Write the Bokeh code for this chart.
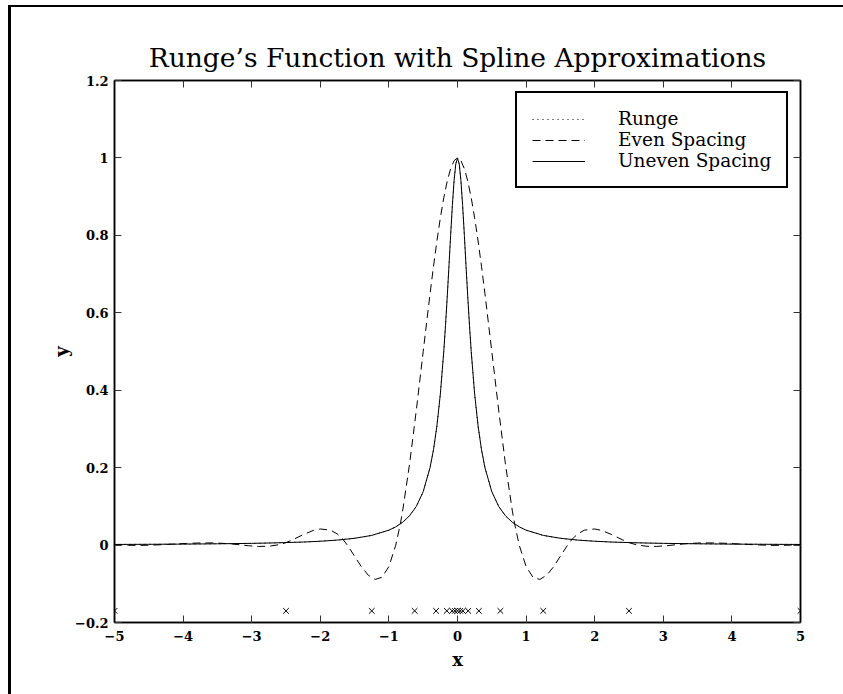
from bokeh.plotting import figure
from bokeh.models import (LinearAxis, FixedTicker, Legend, LegendItem, Range1d,
                          InlineStyleSheet)
from bokeh.embed import file_html
from bokeh.resources import INLINE

# ---------------- data ----------------
runge_x = [-5, -4.5, -4, -3.5, -3, -2.75, -2.5, -2.25, -2, -1.75, -1.5, -1.25, -1,
           -0.9, -0.8, -0.7, -0.6, -0.5, -0.4, -0.35, -0.3, -0.25, -0.2, -0.175,
           -0.15, -0.125, -0.1, -0.075, -0.05, -0.025, 0,
           0.025, 0.05, 0.075, 0.1, 0.125, 0.15, 0.175, 0.2, 0.25, 0.3, 0.35, 0.4,
           0.5, 0.6, 0.7, 0.8, 0.9, 1, 1.25, 1.5, 1.75, 2, 2.25, 2.5, 2.75, 3,
           3.5, 4, 4.5, 5]
runge_y = [0.0016, 0.0020, 0.0025, 0.0033, 0.0044, 0.0053, 0.0064, 0.0078, 0.0099,
           0.0129, 0.0175, 0.0250, 0.0385, 0.0471, 0.0588, 0.0755, 0.1000, 0.1379,
           0.2000, 0.2462, 0.3077, 0.3902, 0.5000, 0.5664, 0.6400, 0.7191, 0.8000,
           0.8767, 0.9412, 0.9846, 1.0000,
           0.9846, 0.9412, 0.8767, 0.8000, 0.7191, 0.6400, 0.5664, 0.5000, 0.3902,
           0.3077, 0.2462, 0.2000, 0.1379, 0.1000, 0.0755, 0.0588, 0.0471, 0.0385,
           0.0250, 0.0175, 0.0129, 0.0099, 0.0078, 0.0064, 0.0053, 0.0044, 0.0033,
           0.0025, 0.0020, 0.0016]

uneven_x = [-5, -4.5, -4, -3.5, -3, -2.75, -2.5, -2.25, -2, -1.75, -1.5, -1.25, -1,
            -0.9, -0.8, -0.7, -0.6, -0.5, -0.4, -0.35, -0.3, -0.25, -0.2, -0.175,
            -0.15, -0.125, -0.1, -0.075, -0.05, -0.025, 0,
            0.025, 0.05, 0.075, 0.1, 0.125, 0.15, 0.175, 0.2, 0.25, 0.3, 0.35, 0.4,
            0.5, 0.6, 0.7, 0.8, 0.9, 1, 1.25, 1.5, 1.75, 2, 2.25, 2.5, 2.75, 3,
            3.5, 4, 4.5, 5]
uneven_y = [0.0016, 0.0020, 0.0025, 0.0033, 0.0044, 0.0053, 0.0064, 0.0078, 0.0099,
            0.0129, 0.0175, 0.0250, 0.0385, 0.0471, 0.0588, 0.0755, 0.1000, 0.1379,
            0.2000, 0.2462, 0.3077, 0.3902, 0.5000, 0.5664, 0.6400, 0.7191, 0.8000,
            0.8767, 0.9412, 0.9846, 0.9990,
            0.9846, 0.9412, 0.8767, 0.8000, 0.7191, 0.6400, 0.5664, 0.5000, 0.3902,
            0.3077, 0.2462, 0.2000, 0.1379, 0.1000, 0.0755, 0.0588, 0.0471, 0.0385,
            0.0250, 0.0175, 0.0129, 0.0099, 0.0078, 0.0064, 0.0053, 0.0044, 0.0033,
            0.0025, 0.0020, 0.0016]

even_x = [-5, -4.8, -4.6, -4.4, -4.1667, -3.95, -3.75, -3.55, -3.3333, -3.2,
          -3.05, -2.9, -2.75, -2.6, -2.5, -2.4, -2.25, -2.1, -2.0, -1.85,
          -1.75, -1.6667, -1.6, -1.5, -1.4, -1.3, -1.2, -1.1, -1.0, -0.9,
          -0.8333, -0.8, -0.7, -0.6, -0.5, -0.4, -0.35, -0.3, -0.25, -0.2,
          -0.15, -0.1, -0.05, 0,
          0.05, 0.1, 0.15, 0.2, 0.25, 0.3, 0.35, 0.4, 0.5, 0.6, 0.7, 0.8,
          0.8333, 0.9, 1.0, 1.1, 1.2, 1.3, 1.4, 1.5, 1.6, 1.6667, 1.75,
          1.85, 2.0, 2.1, 2.25, 2.4, 2.5, 2.6, 2.75, 2.9, 3.05, 3.2, 3.3333,
          3.55, 3.75, 3.95, 4.1667, 4.4, 4.6, 4.8, 5]
even_y = [0.0016, -0.0006, -0.0008, 0.0002, 0.0023, 0.0043, 0.0055, 0.0056, 0.0036,
          0.0012, -0.0017, -0.0035, -0.0030, 0.0010, 0.0064, 0.0139, 0.0270, 0.0379,
          0.0416, 0.0385, 0.0285, 0.0142, -0.0014, -0.0288, -0.0562, -0.0780,
          -0.0888, -0.0831, -0.0554, -0.0003, 0.0545, 0.0877, 0.2077, 0.3489,
          0.5000, 0.6494, 0.7198, 0.7855, 0.8451, 0.8970, 0.9399, 0.9723, 0.9928,
          1.0000,
          0.9928, 0.9723, 0.9399, 0.8970, 0.8451, 0.7855, 0.7198, 0.6494, 0.5000,
          0.3489, 0.2077, 0.0877, 0.0545, -0.0003, -0.0554, -0.0831, -0.0888,
          -0.0780, -0.0562, -0.0288, -0.0014, 0.0142, 0.0285, 0.0385, 0.0416,
          0.0379, 0.0270, 0.0139, 0.0064, 0.0010, -0.0030, -0.0035, -0.0017,
          0.0012, 0.0036, 0.0056, 0.0055, 0.0043, 0.0023, 0.0002, -0.0008,
          -0.0006, 0.0016]

knot_x = [-5, -2.5, -1.25, -0.625, -0.3125, -0.15625, -0.078125, -0.0390625, 0,
          0.0390625, 0.078125, 0.15625, 0.3125, 0.625, 1.25, 2.5, 5]
knot_y = [-0.17, -0.17, -0.17, -0.17, -0.17, -0.17, -0.17, -0.17, -0.17,
          -0.17, -0.17, -0.17, -0.17, -0.17, -0.17, -0.17, -0.17]

x_ticks = [-5, -4, -3, -2, -1, 0, 1, 2, 3, 4, 5]
x_tick_labels = ["\u22125", "\u22124", "\u22123", "\u22122", "\u22121", "0",
                 "1", "2", "3", "4", "5"]
y_ticks = [-0.2, 0, 0.2, 0.4, 0.6, 0.8, 1, 1.2]
y_tick_labels = ["\u22120.2", "0", "0.2", "0.4", "0.6", "0.8", "1", "1.2"]

title_text = "Runge\u2019s Function with Spline Approximations"
series_names = ["Runge", "Even Spacing", "Uneven Spacing"]

# ---------------- figure ----------------
SERIF = "DejaVu Serif"

p = figure(width=843, height=694, output_backend="svg", toolbar_location=None,
           x_range=Range1d(-5, 5), y_range=Range1d(-0.2, 1.2),
           min_border_left=114, min_border_right=43,
           min_border_top=80, min_border_bottom=72)
# the picture's outer frame (black top and left edges) drawn behind a
# transparent canvas border
p.border_fill_color = None
p.styles = {"background": ("linear-gradient(#000,#000) 8px 5px / 835px 2px no-repeat, "
                           "linear-gradient(#000,#000) 8px 5px / 3px 689px no-repeat, "
                           "#ffffff"),
            "overflow": "hidden"}
# hide any scrollbar inside the figure's own shadow DOM
p.stylesheets = [InlineStyleSheet(css=(
    "* { scrollbar-width: none !important; } "
    "*::-webkit-scrollbar { display: none !important; width: 0 !important; "
    "height: 0 !important; } "
    ":host, .bk-Canvas, .bk-canvas-wrapper { overflow: hidden !important; }"))]
p.background_fill_color = "white"
p.outline_line_color = "black"
p.outline_line_width = 1.5
p.grid.visible = False

p.title.text = title_text
p.title.text_font = SERIF
p.title.text_font_size = "26.5px"
p.title.text_font_style = "normal"
p.title.text_color = "black"
p.title.align = "center"
p.title.standoff = 15


def style_axis(ax, ticks, labels, show_labels):
    ax.ticker = FixedTicker(ticks=ticks)
    ax.major_tick_in = 7
    ax.major_tick_out = 0
    ax.minor_tick_line_color = None
    ax.axis_line_color = "black"
    ax.axis_line_width = 1.5
    ax.major_tick_line_color = "#333333"
    ax.major_tick_line_width = 1
    if show_labels:
        ax.major_label_overrides = dict(zip(ticks, labels))
        ax.major_label_text_font = SERIF
        ax.major_label_text_font_size = "13px"
        ax.major_label_text_font_style = "bold"
        ax.major_label_text_color = "black"
    else:
        ax.major_label_text_color = None
        ax.major_label_text_font_size = "1px"
        ax.major_label_standoff = 0


style_axis(p.xaxis[0], x_ticks, x_tick_labels, True)
style_axis(p.yaxis[0], y_ticks, y_tick_labels, True)
p.xaxis.major_label_standoff = 8
p.yaxis.major_label_standoff = 6
p.xaxis.axis_label = "x"
p.yaxis.axis_label = "y"
for ax in (p.xaxis[0], p.yaxis[0]):
    ax.axis_label_text_font = SERIF
    ax.axis_label_text_font_size = "18px"
    ax.axis_label_text_font_style = "bold"
    ax.axis_label_text_color = "black"
p.xaxis.axis_label_standoff = 5
p.yaxis.axis_label_standoff = 0

top_ax = LinearAxis()
style_axis(top_ax, x_ticks, x_tick_labels, False)
p.add_layout(top_ax, "above")
right_ax = LinearAxis()
style_axis(right_ax, y_ticks, y_tick_labels, False)
p.add_layout(right_ax, "right")

# ---------------- data marks ----------------
r_runge = p.line(runge_x, runge_y, line_color="black", line_width=1,
                 line_dash="1 4")
r_even = p.line(even_x, even_y, line_color="black", line_width=1,
                line_dash="8 5")
r_uneven = p.line(uneven_x, uneven_y, line_color="black", line_width=1)
p.scatter(knot_x, knot_y, marker="x", size=8, line_color="black", line_width=1)

legend = Legend(items=[LegendItem(label=series_names[0], renderers=[r_runge]),
                       LegendItem(label=series_names[1], renderers=[r_even]),
                       LegendItem(label=series_names[2], renderers=[r_uneven])],
                location=(401, 434), padding=15, spacing=0, margin=0,
                glyph_width=53, glyph_height=20, label_standoff=33,
                label_text_font=SERIF, label_text_font_size="18.5px",
                label_text_color="black",
                border_line_color="black", border_line_width=2,
                border_line_alpha=1.0,
                background_fill_color="white", background_fill_alpha=1)
p.add_layout(legend)

open("out.html", "w").write(file_html(p, INLINE))
